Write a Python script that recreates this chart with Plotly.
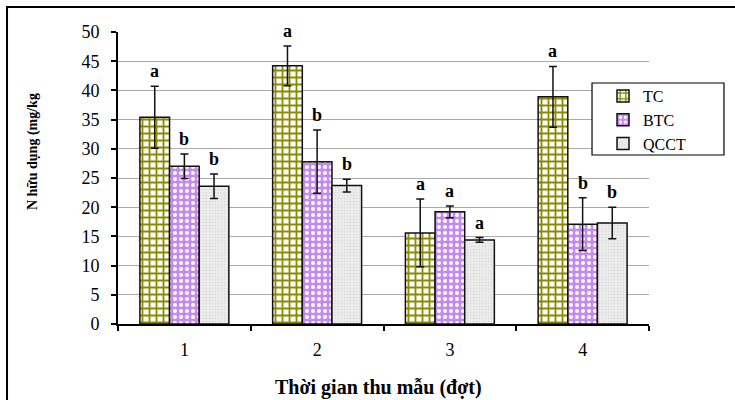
import plotly.graph_objects as go

categories = ["1", "2", "3", "4"]
series_names = ["TC", "BTC", "QCCT"]
tc_vals = [35.4, 44.2, 15.6, 38.9]
tc_err = [5.3, 3.4, 5.8, 5.2]
btc_vals = [27.0, 27.8, 19.2, 17.1]
btc_err = [2.1, 5.4, 1.0, 4.5]
qcct_vals = [23.6, 23.7, 14.4, 17.3]
qcct_err = [2.1, 1.1, 0.4, 2.7]
tc_letters = ["a", "a", "a", "a"]
btc_letters = ["b", "b", "a", "b"]
qcct_letters = ["b", "b", "a", "b"]
y_ticks = [0, 5, 10, 15, 20, 25, 30, 35, 40, 45, 50]

SERIF = "Liberation Serif"
BARGAP = 0.33

styles = [
    dict(shape="+", fgcolor="#8c8a00", bgcolor="white", size=7, solidity=0.45),
    dict(shape=".", fgcolor="white", bgcolor="#c48af0", size=6, solidity=0.35),
    dict(shape=".", fgcolor="#dcdcdc", bgcolor="#efefef", size=3, solidity=0.3),
]

fig = go.Figure()
all_vals = [tc_vals, btc_vals, qcct_vals]
all_errs = [tc_err, btc_err, qcct_err]
all_letters = [tc_letters, btc_letters, qcct_letters]
for name, vals, errs, st in zip(series_names, all_vals, all_errs, styles):
    fig.add_trace(go.Bar(
        name=name, x=categories, y=vals,
        marker=dict(color=st["bgcolor"], line=dict(color="#111111", width=1.5),
                    pattern=dict(shape=st["shape"], fgcolor=st["fgcolor"], bgcolor=st["bgcolor"],
                                 size=st["size"], solidity=st["solidity"], fillmode="replace")),
        error_y=dict(type="data", array=errs, visible=True, color="#111111", thickness=1.5, width=4),
    ))

bw = (1 - BARGAP) / 3
for j, (vals, errs, letters) in enumerate(zip(all_vals, all_errs, all_letters)):
    for i, (v, e, L) in enumerate(zip(vals, errs, letters)):
        fig.add_annotation(x=i + (j - 1) * bw, y=v + e, text="<b>%s</b>" % L, showarrow=False,
                           xanchor="center", yanchor="bottom", yshift=3, xref="x", yref="y",
                           font=dict(family=SERIF, size=18, color="black"))

fig.add_annotation(x=-0.160, y=0.589, xref="paper", yref="paper", text="<b>N hữu dụng (mg/kg</b>",
                   textangle=-90, showarrow=False, xanchor="center", yanchor="middle",
                   font=dict(family=SERIF, size=14, color="black"))
fig.add_annotation(x=0.4915, y=-0.2158, xref="paper", yref="paper", text="<b>Thời gian thu mẫu (đợt)</b>",
                   showarrow=False, xanchor="center", yanchor="middle",
                   font=dict(family=SERIF, size=20, color="black"))

# outer frame
fig.add_shape(type="rect", xref="paper", yref="paper", x0=-0.209, x1=1.4, y0=-0.5, y1=1.0856,
              line=dict(color="black", width=2), fillcolor="rgba(0,0,0,0)", layer="above")
# legend box
fig.add_shape(type="rect", xref="paper", yref="paper", x0=0.8927, x1=1.1412, y0=0.5788, y1=0.8253,
              line=dict(color="black", width=1.2), fillcolor="white", layer="above")

fig.update_layout(
    width=735, height=400,
    margin=dict(l=118, r=86, t=32, b=76),
    paper_bgcolor="white", plot_bgcolor="white",
    barmode="group", bargap=BARGAP, bargroupgap=0,
    font=dict(family=SERIF, size=17, color="black"),
    showlegend=True,
    legend=dict(x=0.9134, y=0.839, xanchor="left", yanchor="top", borderwidth=0,
                bgcolor="rgba(0,0,0,0)", font=dict(family=SERIF, size=16), itemwidth=30),
    xaxis=dict(type="category", showline=True, linecolor="black", linewidth=2, ticks="outside",
               tickson="boundaries", ticklen=5, tickcolor="black", tickwidth=2,
               showgrid=False, tickfont=dict(family=SERIF, size=18), ticklabelstandoff=8),
    yaxis=dict(range=[0, 50], tickvals=y_ticks, showline=True, linecolor="black", linewidth=2,
               ticks="outside", ticklen=5, tickcolor="black", tickwidth=2,
               showgrid=True, gridcolor="#aaaaaa", gridwidth=1, zeroline=False,
               tickfont=dict(family=SERIF, size=18), ticklabelstandoff=8),
)

fig.write_html("out.html")
